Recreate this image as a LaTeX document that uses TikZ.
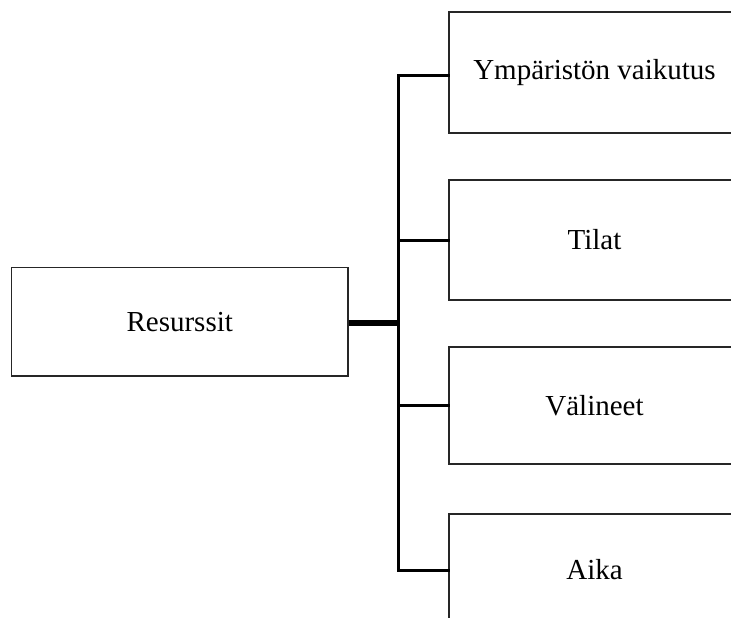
\documentclass[tikz,border=0pt]{standalone}
\usepackage{fontspec}
\setmainfont{Liberation Serif}
\begin{document}
\begin{tikzpicture}[x=1pt,y=-1pt,
  box/.style={draw=black!85, line width=1.5pt, fill=white, rectangle,
    inner sep=0pt, font=\fontsize{29}{34}\selectfont},
  branch/.style={line width=3pt, line cap=rect, line join=miter},
  trunk/.style={line width=6pt}]
  \useasboundingbox (0,0) rectangle (731,618);
  \clip (0,0) rectangle (731,618);

  % main box
  \node[box, minimum width=336.5pt, minimum height=108.5pt] (res) at (179.75,321.75) {Resurssit};

  % branch boxes (they run past the right edge)
  \node[box, minimum width=291pt, minimum height=121pt] (b1) at (594.5,72.5) {Ympäristön vaikutus};
  \node[box, minimum width=291pt, minimum height=120pt] (b2) at (594.5,240) {Tilat};
  \node[box, minimum width=291pt, minimum height=117pt] (b3) at (594.5,405.5) {Välineet};
  \node[box, minimum width=291pt, minimum height=112pt] (b4) at (594.5,570) {Aika};

  % spine of the bracket
  \coordinate (top) at (398.5,76);
  \coordinate (bot) at (398.5,570);
  \coordinate (mid) at (398.5,323);

  \draw[branch] ([yshift=-3.5pt]b1.west) -- (top) -- (bot) -- (b4.west);
  \draw[branch] (b2.west) -- (b2.west -| top);
  \draw[branch] (b3.west) -- (b3.west -| top);
  \draw[trunk] (res.east |- mid) -- (mid);
\end{tikzpicture}
\end{document}
